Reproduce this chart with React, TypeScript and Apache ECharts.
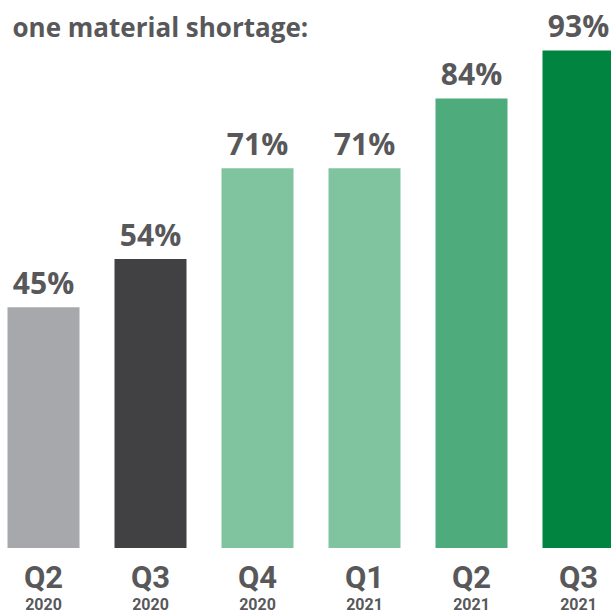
import React, { useEffect, useRef } from "react";
import * as echarts from "echarts";

const quarters = ["Q2", "Q3", "Q4", "Q1", "Q2", "Q3"];
const years = ["2020", "2020", "2020", "2021", "2021", "2021"];
const values = [45, 54, 71, 71, 84, 93];
const barColors = ["#a7a8ac", "#414042", "#80c39f", "#80c39f", "#4eab7b", "#00843f"];
const titleText = "one material shortage:";

const TEXT = "#58585b";
const SHIFT = 10.5;

export default function App() {
  const ref = useRef<HTMLDivElement>(null);
  useEffect(() => {
    document.body.style.margin = "0";
    const chart = echarts.init(ref.current!, undefined, { renderer: "svg" });
    const baseAxis = {
      type: "category",
      position: "bottom",
      axisLine: { show: false },
      axisTick: { show: false },
      splitLine: { show: false },
    };
    chart.setOption({
      animation: false,
      backgroundColor: "#ffffff",
      title: {
        text: titleText,
        left: 7 + SHIFT,
        top: 9,
        textStyle: { color: TEXT, fontFamily: "Open Sans", fontWeight: "bold", fontSize: 26 },
      },
      grid: { left: 0, right: 0, top: 13, height: 540, containLabel: false },
      xAxis: [
        {
          ...baseAxis,
          data: quarters,
          axisLabel: {
            margin: 14,
            interval: 0,
            fontFamily: "Roboto",
            fontWeight: "bold",
            fontSize: 31,
            lineHeight: 31,
            color: TEXT,
          },
        },
        {
          ...baseAxis,
          data: years,
          axisLabel: {
            margin: 48,
            interval: 0,
            fontFamily: "Roboto",
            fontWeight: "bold",
            fontSize: 16,
            lineHeight: 16,
            color: TEXT,
          },
        },
      ],
      yAxis: { type: "value", min: 0, max: 100, show: false, splitLine: { show: false } },
      series: [
        {
          type: "bar",
          xAxisIndex: 0,
          barWidth: 72,
          data: values.map((v, i) => ({ value: v, itemStyle: { color: barColors[i] } })),
          label: {
            show: true,
            position: "top",
            distance: 10,
            formatter: "{c}%",
            color: TEXT,
            fontFamily: "Open Sans",
            fontWeight: "bold",
            fontSize: 30,
          },
        },
      ],
    });
    return () => chart.dispose();
  }, []);
  return (
    <div style={{ position: "fixed", left: 0, top: 0, width: 611, height: 612, overflow: "hidden" }}>
      <div ref={ref} style={{ position: "absolute", left: -SHIFT, top: 0, width: 642, height: 612 }} />
    </div>
  );
}
